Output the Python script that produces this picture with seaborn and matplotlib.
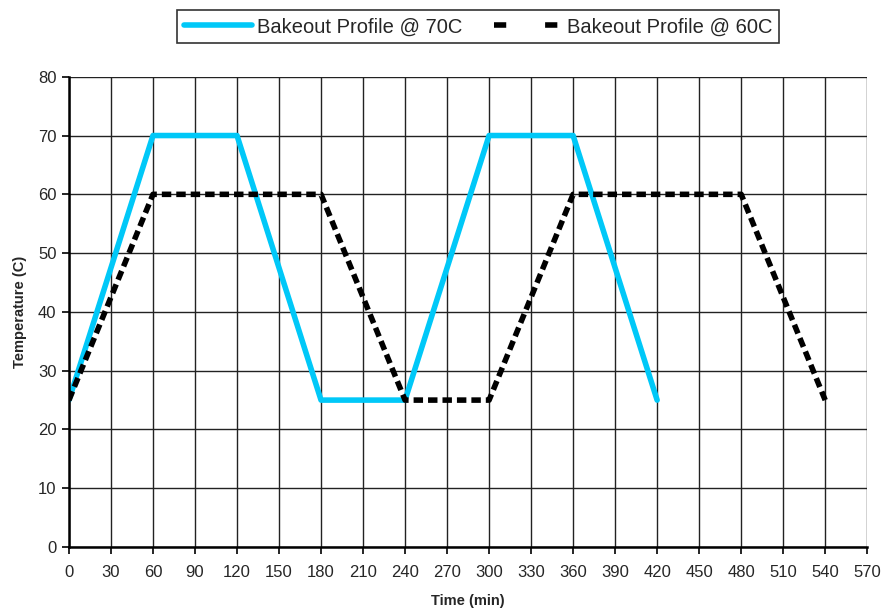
import pandas as pd
import matplotlib.pyplot as plt
import seaborn as sns

# Bakeout profiles (time in min, temperature in C)
time_70 = [0, 60, 120, 180, 240, 300, 360, 420]
temp_70 = [25, 70, 70, 25, 25, 70, 70, 25]
time_60 = [0, 60, 180, 240, 300, 360, 480, 540]
temp_60 = [25, 60, 60, 25, 25, 60, 60, 25]
x_ticks = list(range(0, 571, 30))
y_ticks = list(range(0, 81, 10))

df70 = pd.DataFrame({'Time': time_70, 'Temp': temp_70})
df60 = pd.DataFrame({'Time': time_60, 'Temp': temp_60})

sns.set_style("white")
plt.rcParams['font.family'] = ['Liberation Sans', 'DejaVu Sans']

fig = plt.figure(figsize=(8.84, 6.14), dpi=100)
ax = fig.add_axes([0.078, 0.109, 0.903, 0.766])

sns.lineplot(data=df70, x='Time', y='Temp', color='#00C8F8', linewidth=4,
             label='Bakeout Profile @ 70C', sort=False, ax=ax)
sns.lineplot(data=df60, x='Time', y='Temp', color='black', linewidth=4,
             linestyle=(0, (1.7, 0.9)), label='Bakeout Profile @ 60C', sort=False, ax=ax)

ax.set_xlim(0, 570)
ax.set_ylim(0, 80)
ax.set_xticks(x_ticks)
ax.set_yticks(y_ticks)
ax.grid(True, color='#222222', linewidth=1)
ax.tick_params(axis='both', direction='out', length=5, width=1.2, color='black',
               labelsize=12, bottom=True, left=True)
ax.tick_params(axis='x', pad=8)
ax.tick_params(axis='y', pad=4)
for side in ['top', 'right']:
    ax.spines[side].set_visible(False)
for side in ['left', 'bottom']:
    ax.spines[side].set_color('black')
    ax.spines[side].set_linewidth(1.8)

ax.set_xlabel('Time (min)', fontsize=10.5, fontweight='bold', labelpad=10)
ax.set_ylabel('Temperature (C)', fontsize=10.5, fontweight='bold', labelpad=8)

leg = ax.legend(loc='center', bbox_to_anchor=(0.5125, 1.106), ncol=2, fontsize=14.5,
                frameon=True, fancybox=False, edgecolor='black', handlelength=3.4,
                handletextpad=0.2, columnspacing=1.6, borderpad=0.35)
leg.get_frame().set_linewidth(1.2)
# legend sample for the dashed series shows two short dashes
leg.get_lines()[1].set_linestyle((0, (2.2, 7.0)))

plt.savefig('out.png', dpi=100)
